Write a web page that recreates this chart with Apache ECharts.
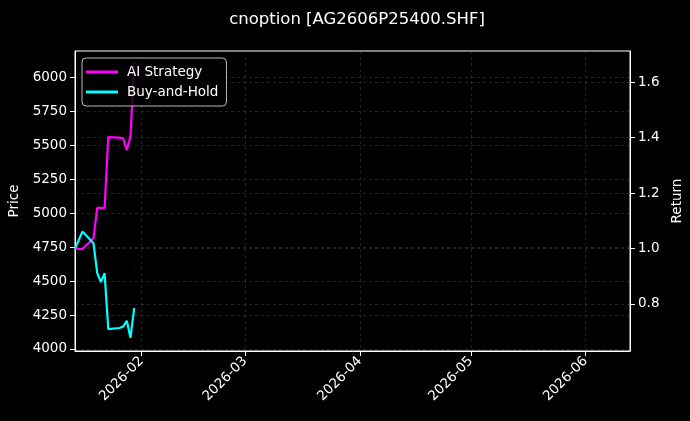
<!DOCTYPE html>
<html><head><meta charset="utf-8">
<script src="https://cdn.jsdelivr.net/npm/echarts@6/dist/echarts.min.js"></script>
<style>html,body{margin:0;padding:0;background:#000;}#c{width:690px;height:421px;}</style>
</head><body><div id="c"></div>
<script>
const dates = ['2026-01-14','2026-01-15','2026-01-16','2026-01-19','2026-01-20','2026-01-21','2026-01-22','2026-01-23','2026-01-26','2026-01-27','2026-01-28','2026-01-29','2026-01-30'];
const aiStrategy = [1.000,0.999,0.998,1.037,1.147,1.147,1.147,1.402,1.400,1.398,1.356,1.404,1.674];
const buyHold = [1.000,1.030,1.061,1.019,0.912,0.879,0.911,0.709,0.713,0.718,0.739,0.678,0.785];
const signalDates = ['2026-01-20','2026-01-30'];
const signalPrices = [5324,4584];
const monthTicks = ['2026-02-01','2026-03-01','2026-04-01','2026-05-01','2026-06-01'];
const priceTicks = [4000,4250,4500,4750,5000,5250,5500,5750,6000];
const returnTicks = [0.8,1.0,1.2,1.4,1.6];

function ts(s){const p=s.split('-').map(Number);return new Date(p[0],p[1]-1,p[2]).getTime();}
const FONT='DejaVu Sans';
const txt='#ffffff';
const gridLine={show:true,lineStyle:{color:'rgba(150,150,150,0.38)',type:[3,3],width:0.6}};
const mt=monthTicks.map(ts);

const chart=echarts.init(document.getElementById('c'),null,{renderer:'canvas'});
chart.setOption({
  backgroundColor:'#000',
  animation:false,
  textStyle:{fontFamily:FONT},
  title:{text:'cnoption [AG2606P25400.SHF]',left:352,top:6,textAlign:'center',
    textStyle:{color:txt,fontSize:16.5,fontWeight:'normal',fontFamily:FONT}},
  grid:{left:75,right:60,top:51,bottom:70,outerBoundsMode:'none',containLabel:false,show:true,borderColor:'#fff',borderWidth:1,backgroundColor:'transparent'},
  legend:{left:82,top:58,orient:'vertical',itemGap:6,itemWidth:32,itemHeight:3,icon:'rect',
    padding:[7,8,7,4],backgroundColor:'rgba(0,0,0,0.8)',borderColor:'#bbb',borderWidth:1,borderRadius:4,
    textStyle:{color:txt,fontSize:13.5,fontFamily:FONT,padding:[0,0,0,4]},
    data:['AI Strategy','Buy-and-Hold']},
  xAxis:{type:'value',min:ts('2026-01-14'),max:ts('2026-06-13'),
    axisLine:{show:true,lineStyle:{color:'#fff'}},
    axisTick:{show:true,length:5,lineStyle:{color:'#fff'},customValues:mt},
    axisLabel:{color:txt,fontSize:13.5,fontFamily:FONT,rotate:45,margin:8,customValues:mt,
      formatter:function(v){const d=new Date(v);return d.getFullYear()+'-'+String(d.getMonth()+1).padStart(2,'0');}},
    splitLine:gridLine},
  yAxis:[
    {type:'value',min:3985,max:6197,position:'left',name:'Price',nameLocation:'middle',nameGap:49,
     nameTextStyle:{color:txt,fontSize:13.5,fontFamily:FONT},
     axisLine:{show:true,lineStyle:{color:'#fff'}},
     axisTick:{show:true,length:5,lineStyle:{color:'#fff'},customValues:priceTicks},
     axisLabel:{color:txt,fontSize:13.5,fontFamily:FONT,margin:8,customValues:priceTicks,
       formatter:function(v){return String(v);}},
     splitLine:gridLine},
    {type:'value',min:0.630,max:1.713,position:'right',name:'Return',nameLocation:'middle',nameGap:34,
     nameRotate:90,
     nameTextStyle:{color:txt,fontSize:13.5,fontFamily:FONT},
     axisLine:{show:true,lineStyle:{color:'#fff'}},
     axisTick:{show:true,length:5,lineStyle:{color:'#fff'},customValues:returnTicks},
     axisLabel:{color:txt,fontSize:13.5,fontFamily:FONT,margin:8,customValues:returnTicks,
       formatter:function(v){return v.toFixed(1);}},
     splitLine:gridLine}
  ],
  series:[
    {name:'Signals',type:'scatter',yAxisIndex:0,symbolSize:2,itemStyle:{color:'#4a0000'},
     data:signalDates.map((d,i)=>[ts(d),signalPrices[i]]),z:1},
    {name:'AI Strategy',type:'line',yAxisIndex:1,showSymbol:false,symbol:'none',
     lineStyle:{color:'#ff00ff',width:2.2},itemStyle:{color:'#ff00ff'},
     data:dates.map((d,i)=>[ts(d),aiStrategy[i]]),z:3},
    {name:'Buy-and-Hold',type:'line',yAxisIndex:1,showSymbol:false,symbol:'none',
     lineStyle:{color:'#00ffff',width:2.2},itemStyle:{color:'#00ffff'},
     data:dates.map((d,i)=>[ts(d),buyHold[i]]),z:3}
  ]
});
</script></body></html>
